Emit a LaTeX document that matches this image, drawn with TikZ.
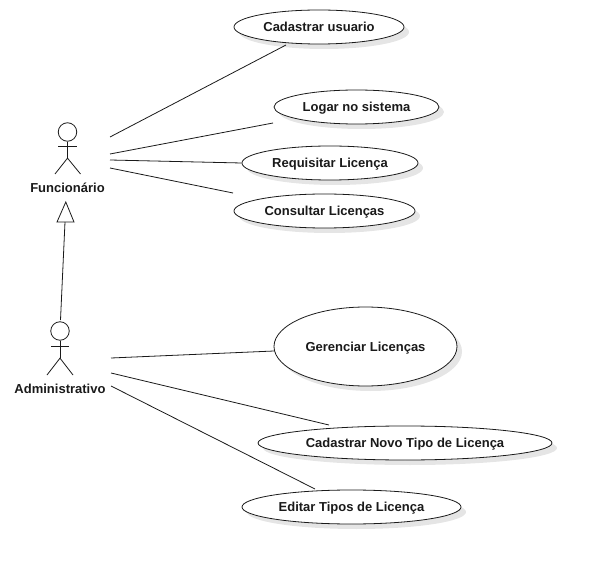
\documentclass[tikz,border=0pt]{standalone}
\usepackage{fontspec}
\setmainfont{Liberation Sans}
\usetikzlibrary{shapes.geometric, shadows, arrows}
\definecolor{linegray}{HTML}{1A1A1A}
\tikzstyle{usecase} = [draw=linegray, fill=white, ellipse, inner sep=0pt, line width=0.8pt, text=linegray, text height=11pt, text depth=2pt, font=\fontsize{13}{15}\selectfont\bfseries, drop shadow={shadow xshift=5pt, shadow yshift=-5pt, fill=black!10, opacity=1}]
\tikzstyle{head} = [draw=linegray, fill=white, circle, inner sep=0pt, minimum size=18.5pt, line width=0.8pt]
\tikzstyle{actor} = [text=linegray, text height=11pt, text depth=2pt, font=\fontsize{13}{15}\selectfont\bfseries]
\tikzstyle{link} = [draw=linegray, line width=0.8pt]

\begin{document}
\begin{tikzpicture}[x=1pt, y=-1pt]
	\useasboundingbox (0,0) rectangle (592,564);

	% use cases
	\node [usecase, minimum width=170pt, minimum height=34pt] (cadastrar) at (319,27) {Cadastrar usuario};
	\node [usecase, minimum width=165pt, minimum height=34pt] (logar) at (356.5,107) {Logar no sistema};
	\node [usecase, minimum width=176pt, minimum height=34pt] (requisitar) at (330,163) {Requisitar Licença};
	\node [usecase, minimum width=181pt, minimum height=34pt] (consultar) at (324.5,211) {Consultar Licenças};
	\node [usecase, minimum width=183pt, minimum height=79pt] (gerenciar) at (365.5,346.5) {Gerenciar Licenças};
	\node [usecase, minimum width=294pt, minimum height=34pt] (novotipo) at (405,443) {Cadastrar Novo Tipo de Licença};
	\node [usecase, minimum width=219pt, minimum height=34pt] (editar) at (351.5,507) {Editar Tipos de Licença};

	% actors
	\node [head] (funcHead) at (67.5,132) {};
	\node [actor] (funcionario) at (67.5,188) {Funcionário};
	\draw [link] (funcHead.south) -- ++(0,16.5) coordinate (funcHip);
	\draw [link] (58,146.5) -- (77,146.5);
	\draw [link] (55,174) -- (funcHip) -- (80.5,174);

	\node [head] (admHead) at (60,331) {};
	\node [actor] (administrativo) at (60,389) {Administrativo};
	\draw [link] (admHead.south) -- ++(0,17.5) coordinate (admHip);
	\draw [link] (51,346.5) -- (69,346.5);
	\draw [link] (47,375) -- (admHip) -- (73,375);

	% generalization
	\coordinate (genApex) at (65.8,202);
	\coordinate (genBase) at (65,222);
	\coordinate (genStart) at (60.5,320);
	\draw [link] (genStart) -- (genBase);
	\draw [link] (genApex) -- (74,222) -- (57,222) -- cycle;

	% free ends
	\coordinate (func1) at (110,137);
	\coordinate (func2) at (110,154);
	\coordinate (func3) at (110,160);
	\coordinate (func4) at (110,168);
	\coordinate (adm1) at (111,358);
	\coordinate (adm2) at (111,373);
	\coordinate (adm3) at (111,386);
	\coordinate (cadastrarEnd) at (286,45);
	\coordinate (logarEnd) at (273,123);
	\coordinate (consultarEnd) at (233,193);
	\coordinate (gerenciarEnd) at (274,351);
	\coordinate (novotipoEnd) at (329,425);
	\coordinate (editarEnd) at (315,489);

	\draw [link] (func1) -- (cadastrarEnd);
	\draw [link] (func2) -- (logarEnd);
	\draw [link] (func3) -- (requisitar.west);
	\draw [link] (func4) -- (consultarEnd);
	\draw [link] (adm1) -- (gerenciarEnd);
	\draw [link] (adm2) -- (novotipoEnd);
	\draw [link] (adm3) -- (editarEnd);
\end{tikzpicture}
\end{document}
